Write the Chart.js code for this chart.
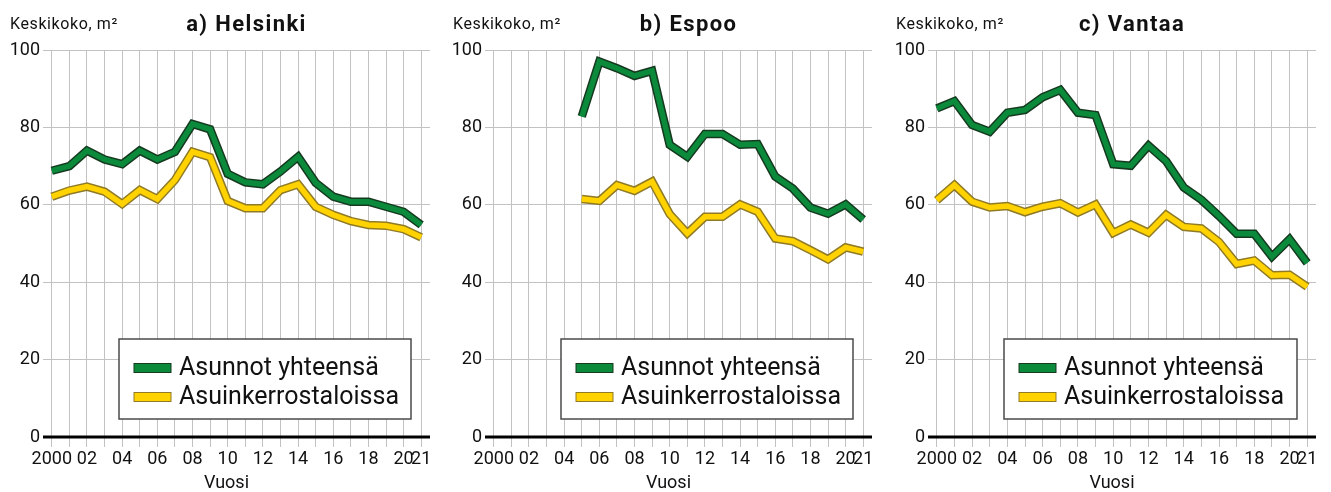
<!DOCTYPE html>
<html>
<head>
<meta charset="utf-8">
<script src="https://cdn.jsdelivr.net/npm/chart.js@4/dist/chart.umd.min.js"></script>
<style>
  html, body { margin: 0; padding: 0; background: #ffffff; }
  #wrap { position: relative; width: 1331px; height: 492px; background: #fff; overflow: hidden; }
  canvas { position: absolute; top: 0; }
</style>
</head>
<body>
<div id="wrap">
  <canvas id="cA" width="443" height="492" style="left:0px;width:443px;height:492px"></canvas>
  <canvas id="cB" width="443" height="492" style="left:443px;width:443px;height:492px"></canvas>
  <canvas id="cC" width="445" height="492" style="left:886px;width:445px;height:492px"></canvas>
</div>
<script>
// ---- data ----
const years = ['2000','2001','2002','2003','2004','2005','2006','2007','2008','2009','2010',
               '2011','2012','2013','2014','2015','2016','2017','2018','2019','2020','2021'];
const tickLabels = ['2000','','02','','04','','06','','08','','10','','12','','14','','16','','18','','20','21'];
const yTicks = [0, 20, 40, 60, 80, 100];

const seriesNames = ['Asunnot yhteensä', 'Asuinkerrostaloissa'];
const panelTitles = ['a) Helsinki', 'b) Espoo', 'c) Vantaa'];
const unitLabel = 'Keskikoko, m²';
const xAxisLabel = 'Vuosi';

const helsinkiTotal = [68.8, 70.0, 74.0, 71.7, 70.5, 74.0, 71.7, 73.7, 80.9, 79.5, 68.0,
                       65.8, 65.3, 68.6, 72.4, 65.7, 62.1, 60.8, 60.8, 59.5, 58.2, 54.8];
const helsinkiFlats = [62.1, 63.7, 64.7, 63.4, 60.2, 63.8, 61.5, 66.4, 73.7, 72.3, 61.0,
                       59.1, 59.1, 63.8, 65.3, 59.5, 57.4, 55.8, 54.8, 54.6, 53.7, 51.6];

const espooTotal = [null, null, null, null, null, 82.8, 97.0, 95.3, 93.3, 94.6, 75.5,
                    72.4, 78.3, 78.3, 75.5, 75.7, 67.3, 64.2, 59.3, 57.7, 60.1, 56.2];
const espooFlats = [null, null, null, null, null, 61.5, 61.0, 65.1, 63.6, 66.0, 57.6,
                    52.6, 56.9, 56.9, 60.1, 58.2, 51.3, 50.6, 48.3, 45.9, 49.0, 47.9];

const vantaaTotal = [84.9, 86.8, 80.6, 78.9, 83.8, 84.5, 87.8, 89.7, 83.8, 83.2, 70.5,
                     70.1, 75.3, 71.3, 64.5, 61.3, 57.1, 52.5, 52.5, 46.6, 51.1, 45.0];
const vantaaFlats = [61.2, 65.1, 60.8, 59.3, 59.7, 58.1, 59.5, 60.4, 58.0, 60.1, 52.7,
                     54.9, 52.8, 57.4, 54.3, 53.9, 50.4, 44.7, 45.6, 41.8, 41.9, 38.8];

// ---- styling ----
const FONT = 'Roboto, "Liberation Sans", Arial, sans-serif';
const GREEN = '#0a8a3a', GREEN_EDGE = '#163a20';
const YELLOW = '#ffd200', YELLOW_EDGE = '#8f7a26';
const GRID = '#c2c2c2';

const textPlugin = {
  id: 'panelText',
  beforeDatasetsDraw(chart) {
    const { ctx, chartArea, scales } = chart;
    const y0 = scales.y.getPixelForValue(0);
    ctx.save();
    ctx.strokeStyle = '#000';
    ctx.lineWidth = 3;
    ctx.beginPath();
    ctx.moveTo(chartArea.left, y0);
    ctx.lineTo(chartArea.right, y0);
    ctx.stroke();
    ctx.restore();
  },
  afterDraw(chart, args, opts) {
    const { ctx, chartArea } = chart;
    ctx.save();
    ctx.fillStyle = '#111';
    ctx.textBaseline = 'alphabetic';
    ctx.font = '16px ' + FONT;
    ctx.textAlign = 'left';
    if ('letterSpacing' in ctx) ctx.letterSpacing = '0.6px';
    ctx.fillText(unitLabel, 10, 29);
    ctx.font = 'bold 22px ' + FONT;
    ctx.textAlign = 'center';
    if ('letterSpacing' in ctx) ctx.letterSpacing = '1.4px';
    const cx = (chartArea.left + chartArea.right) / 2;
    ctx.fillText(opts.title, cx + 10, 30.5);
    if ('letterSpacing' in ctx) ctx.letterSpacing = '0px';
    ctx.font = '18px ' + FONT;
    ctx.fillText(xAxisLabel, cx - 10, 488);

    const lx = chartArea.left + 76, lr = chartArea.right - 19;
    const lt = 339, lb = chartArea.bottom - 18;
    ctx.fillStyle = '#fff';
    ctx.fillRect(lx, lt, lr - lx, lb - lt);
    ctx.strokeStyle = '#4a4a4a';
    ctx.lineWidth = 1.5;
    ctx.strokeRect(lx, lt, lr - lx, lb - lt);
    const items = chart.data.datasets.filter(d => d.legendItem);
    items.forEach((d, i) => {
      const cy = 368 + i * 29;
      const sx = lx + 15;
      ctx.fillStyle = d.borderColor;
      ctx.fillRect(sx, cy - 4.5, 37, 9);
      ctx.strokeStyle = d.edgeColor;
      ctx.lineWidth = 1;
      ctx.strokeRect(sx, cy - 4.5, 37, 9);
      ctx.fillStyle = '#111';
      ctx.font = '25px ' + FONT;
      ctx.textAlign = 'left';
      ctx.textBaseline = 'middle';
      ctx.fillText(d.label, sx + 45, cy + 1);
    });
    ctx.restore();
  }
};

function makeChart(id, title, total, flats, padL, padR) {
  const ds = (label, data, color, width, order, legendItem, edgeColor) => ({
    label, data, borderColor: color, borderWidth: width, order,
    pointRadius: 0, pointHoverRadius: 0, fill: false, tension: 0,
    borderJoinStyle: 'miter', borderCapStyle: 'butt', spanGaps: false,
    legendItem, edgeColor
  });
  return new Chart(document.getElementById(id), {
    type: 'line',
    data: {
      labels: years,
      datasets: [
        ds(seriesNames[0], total, GREEN, 5.5, 0, true, GREEN_EDGE),
        ds(seriesNames[0] + ' edge', total, GREEN_EDGE, 8.5, 1, false),
        ds(seriesNames[1], flats, YELLOW, 5.5, 2, true, YELLOW_EDGE),
        ds(seriesNames[1] + ' edge', flats, YELLOW_EDGE, 8.5, 3, false)
      ]
    },
    options: {
      responsive: false,
      animation: false,
      events: [],
      layout: { padding: { top: 50, right: padR, left: 0, bottom: 0 } },
      plugins: {
        legend: { display: false },
        tooltip: { enabled: false },
        title: { display: false },
        panelText: { title }
      },
      scales: {
        x: {
          type: 'category',
          offset: true,
          border: { display: false },
          grid: { color: GRID, lineWidth: 1, offset: false, drawTicks: true, tickLength: 10, tickColor: GRID },
          ticks: {
            autoSkip: false, maxRotation: 0, padding: 2,
            color: '#111', font: { family: FONT, size: 18 },
            callback: (v, i) => tickLabels[i]
          },
          afterFit: s => { s.height = 55; }
        },
        y: {
          min: 0, max: 100,
          border: { display: false },
          afterBuildTicks: s => { s.ticks = yTicks.map(v => ({ value: v })); },
          grid: { color: ctx => ctx.tick && ctx.tick.value === 0 ? 'rgba(0,0,0,0)' : GRID, lineWidth: 1, drawTicks: false },
          ticks: { padding: 3, color: '#111', font: { family: FONT, size: 18 } },
          afterFit: s => { s.width = padL; }
        }
      }
    },
    plugins: [textPlugin]
  });
}

makeChart('cA', panelTitles[0], helsinkiTotal, helsinkiFlats, 43, 13);
makeChart('cB', panelTitles[1], espooTotal, espooFlats, 42, 14);
makeChart('cC', panelTitles[2], vantaaTotal, vantaaFlats, 42, 15);
</script>
</body>
</html>
